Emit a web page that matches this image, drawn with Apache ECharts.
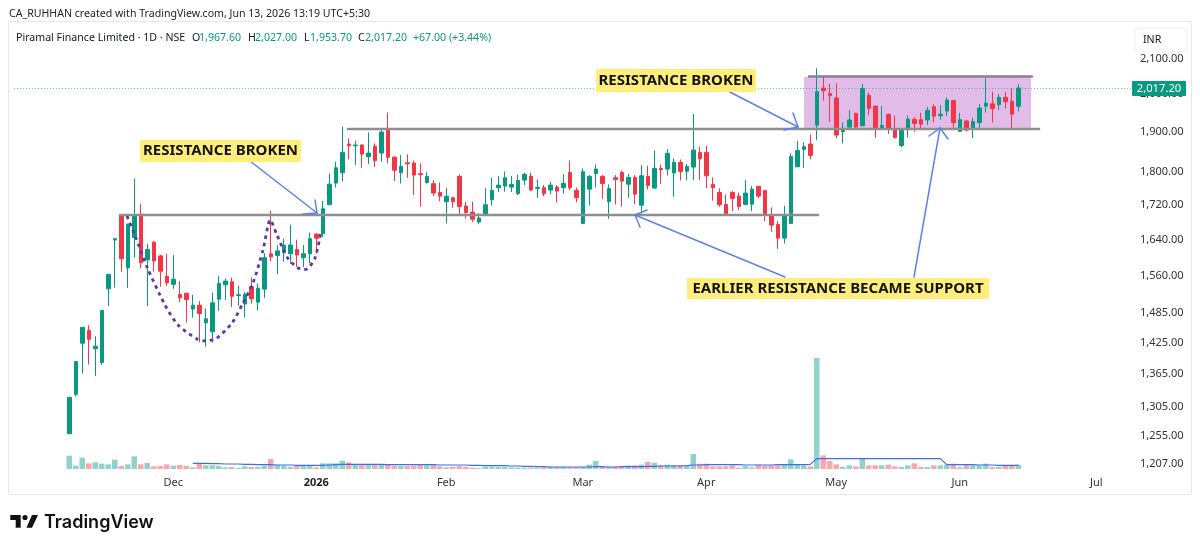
<!DOCTYPE html>
<html><head><meta charset="utf-8">
<style>html,body{margin:0;padding:0;background:#fff}#c{width:1200px;height:549px}</style>
<script src="https://cdn.jsdelivr.net/npm/echarts@6/dist/echarts.min.js"></script>
</head><body><div id="c"></div>
<script>
const opens=[1258.3,1327.9,1423.8,1449,1413,1386.6,1533.5,1639,1693.6,1578,1644.5,1698,1595.4,1634.4,1604,1559.5,1543,1521.6,1524.4,1492,1499.7,1464,1446,1511.9,1541.9,1548.3,1519.6,1502,1537.7,1505.9,1532.8,1608.5,1605,1612,1608.5,1618,1600,1608.6,1652.4,1653,1720,1771.6,
1796.8,1868.6,1864,1866,1836.5,1863,1845.7,1908,1835.7,1796.8,1821.5,1820.7,1794.4,1773,1770,1749,1727,1736.5,1788,1716.9,1702.8,1679.7,1695.8,1731.7,1760.3,1764.3,1761.9,1746.8,1778.8,1788,1758.7,1760.3,1754.8,1761.9,1760.3,1797.6,1754,1676.7,1757,1794.4,1788,1727,1784.5,1797.6,1769,1785.3,1719,1788,1759.5,1807.4,1805.8,1796,1822.3,1800.7,1810.7,1847.4,1847.4,1768.3,1749,1720.6,1749,1740.4,1720.6,1721.4,1763.5,1754,1697.4,1674.4,1643.4,1676.7,1811.5,1854.9,1868.6,
1917.6,2017,2001.5,1989.8,1900,1912.3,1948.5,1915.8,1997,1968,1907,1945.6,1908.9,1865,1905.4,1932.6,1931.8,1931,1966,1942.1,1954.7,1982.6,1901,1928.4,1911.5,1923.9,1967.6,1973.9,1971.6,1991.6,1981,1967.6];
const closes=[1322.5,1388.5,1455,1431.6,1418,1489,1564,1642,1597.6,1675,1693.6,1589,1618,1593,1570.8,1546,1553.9,1514.8,1511.2,1499.7,1482.7,1472,1504.5,1544.8,1549.7,1518,1521,1522.3,1512.7,1534.9,1600,1602,1615,1627.7,1628,1606,1608.6,1642,1643,1710.5,1769,1809,
1847.4,1864,1866,1843,1845.7,1826.5,1899.4,1835,1803,1812.3,1819,1791,1792,1788,1747.6,1740.4,1739.6,1727,1716,1702,1686.4,1689,1720,1754,1766.7,1784.5,1768.3,1778,1792.7,1754.8,1761,1746,1766.7,1752.4,1770.7,1760.3,1736.5,1799,1788,1805.8,1770.7,1758.7,1780.5,1776.4,1785.3,1745,1789.4,1766,1807.4,1804,1845,1822.3,1800,1812.3,1853.2,1831.6,1789.4,1760.3,1720,1697.4,1734.9,1716,1747.6,1757,1740.4,1695.8,1672.8,1643.4,1694.2,1837.3,1852.4,1861.7,1839.8,
2007,2009.8,1996,1891.6,1909,1931,1912.3,2016,1961.8,1907,1916.7,1907,1885.6,1903.5,1933.5,1921.9,1920,1956.4,1941,1946.4,1984.3,1923.9,1931.8,1904.6,1926.7,1962.7,1975.7,1961,1991.6,1980,1946.4,2017.2];
const lows=[1258,1324.3,1366,1383,1361.6,1382,1497.6,1536,1569.6,1535.6,1600,1576.8,1497.6,1570,1537.7,1540,1533.5,1505.9,1464.5,1474.6,1426.4,1416.7,1425,1488,1510,1496,1498.3,1474.6,1503,1489,1514.8,1592.5,1564.5,1591,1587,1580,1580,1587.5,1609,1646,1720,1761,
1775.6,1829.9,1815.7,1809,1818,1811.5,1824,1819.8,1776.4,1770.7,1784.5,1742.8,1715.3,1770.7,1740.4,1728.5,1676.7,1713,1694.2,1688,1680.5,1675,1695.8,1718,1750,1750.7,1750,1742.8,1766.7,1753.2,1736.5,1740.4,1744.4,1725.4,1746.8,1754.8,1726.2,1675,1718,1761,1734,1687.3,1720.6,1715.3,1736.5,1721.4,1699.7,1756.4,1759.5,1769,1790,1738.9,1778,1778,1778.8,1778.8,1759.5,1729.3,1715.3,1695.8,1705,1707.4,1719,1705,1735.7,1682,1657.6,1619.6,1631.5,1676.7,1811.5,1809,1829.9,
1878.7,1982.6,1926,1883,1870,1907,1904.6,1915.8,1944,1884.7,1907,1894,1882,1860,1885.6,1900,1907,1917.6,1924.7,1931.8,1942,1910.6,1901,1901,1883.8,1910.6,1950,1923.9,1957.3,1961,1909,1953.7];
const highs=[1323,1389,1455,1459,1437.5,1490,1565,1643,1694,1676,1783,1721.5,1631,1636.7,1607,1608.5,1606,1550,1525,1521,1508,1493,1525.8,1561,1555.3,1557.4,1540,1527.2,1557.4,1544.8,1610,1706,1627.7,1642,1674,1640,1627.7,1656,1654,1729,1795,1824,
1913,1883,1877,1868,1898.5,1870,1906.5,1951,1836.5,1840.7,1842.4,1826.5,1820,1797.6,1778.8,1773,1759.5,1738.9,1792.7,1727,1727,1699.7,1759.5,1784.5,1788.6,1800,1788.6,1791.9,1796.8,1796.8,1780.5,1766.7,1774.7,1766.7,1792.7,1827.3,1761,1807.4,1791,1817,1791,1768.3,1791,1801.8,1793.5,1791,1815.7,1814,1852.4,1817,1855.8,1832.2,1829.7,1818,1946.6,1861.7,1864,1785.3,1758.7,1744.4,1753.2,1749,1778.8,1764.3,1765,1754.8,1713.8,1682,1717.7,1845,1877,1872.7,1893.4,
2072,2050.4,2028.5,2030,1924.7,1957.3,1950,2028.5,2005,1968,1968,1948.5,1942.9,1909,1942.9,1938,1950,1966,1973,1969.7,1991.6,1984.3,1950,1931.8,1937,1973,2044,2007,2000.6,2007,2016,2027];
const volumes=[40,10,34,17,20,16,14,28,9,14,38,14,18,8,9,14,10,12,9,5,15,11,11,9,5,6,3,8,6,6,10,30,12,10,6,9,9,9,5,17,17,17,25,20,14,14,13,12,13,13,10,9,9,10,13,11,13,8,5,7,9,7,4,3,7,7,6,6,5,4,4,4,4,5,7,6,6,5,5,6,13,24,6,6,7,8,11,11,13,21,19,11,13,12,12,9,45,16,16,8,8,8,11,4,9,5,13,10,11,11,12,29,14,11,8,333,41,24,14,7,11,8,33,11,11,11,13,8,6,11,17,6,6,11,11,12,16,5,14,11,11,16,6,6,11,9,13];
const volumeMA=[null,null,null,null,null,null,null,null,null,null,null,null,null,null,null,null,null,null,null,17,17,17,16,16,15,15,15,14,14,13,13,13,12,12,12,11,11,11,11,11,12,13,14,14,14,14,14,14,14,13,13,13,13,13,13,13,13,12,12,12,12,12,11,11,10,10,10,10,9,9,8,8,7,7,6,6,6,6,6,6,6,7,7,6,6,7,7,7,7,8,8,9,9,9,9,10,12,12,13,13,13,13,13,13,12,12,12,12,12,13,13,13,13,13,14,31,31,31,31,31,31,31,31,31,31,31,31,31,31,31,31,31,31,31,31,13,13,13,13,13,12,12,12,11,11,11,11];
const priceTicks=[2100,2000,1900,1800,1720,1640,1560,1485,1425,1365,1305,1255,1207];
const tickSlots=[24,46,66,87,106,126,145,166];
const tickLabels=['Dec','2026','Feb','Mar','Apr','May','Jun','Jul'];
const PAD=8, SLOTS=172, lastPrice=2017.2;
const UP='#089981', DOWN='#f23645', UPV='#92d2cc', DOWNV='#f9a7ad';

const categories=[];for(let i=0;i<SLOTS;i++){const k=tickSlots.indexOf(i);categories.push(k>=0?tickLabels[k]:'');}
const candles=opens.map((o,i)=>[i+PAD,o,closes[i],lows[i],highs[i]]);
const volBars=volumes.map((v,i)=>({value:[i+PAD,v],itemStyle:{color:closes[i]>=opens[i]?UPV:DOWNV}}));
const maLine=volumeMA.map((v,i)=>[i+PAD,v]);

const FONT='"Noto Sans"';
const ARROW='#5f82e6';
function seg(x1,y1,x2,y2,color,w,z){return{type:'line',z:z||5,silent:true,shape:{x1,y1,x2,y2},style:{stroke:color,lineWidth:w,lineCap:'round'}};}
function arrow(tail,tip,b1,b2){return[seg(tail[0],tail[1],tip[0],tip[1],ARROW,1.5),seg(b1[0],b1[1],tip[0],tip[1],ARROW,1.5),seg(b2[0],b2[1],tip[0],tip[1],ARROW,1.5)];}
function note(x,y,w,h,t,size){return[{type:'rect',z:6,silent:true,shape:{x,y,width:w,height:h},style:{fill:'#ffef7a'}},
{type:'text',z:7,silent:true,x:x+w/2,y:y+h/2,style:{text:t,fill:'#131313',font:'bold '+size+'px '+'"Noto Sans"',align:'center',verticalAlign:'middle'}}];}
function txt(x,y,t,fill,font,align){return{type:'text',z:8,silent:true,x,y,style:{text:t,fill,font:font||('10.6px '+FONT),align:align||'left',verticalAlign:'middle'}};}

const cup=[[127,216],[136,238],[147,267],[165,305],[178,325],[197,339],[206,341],[217,338],[232,323],[243,303],[253,283],[263,250],[270,220],[277,235],[287,257],[298,268],[307,269],[315,258],[321,232]];
const graphics=[
 {type:'rect',z:0,silent:true,shape:{x:8.5,y:21.5,width:1183,height:473},style:{fill:'none',stroke:'#e6e8ee',lineWidth:1}},
 {type:'rect',z:0,silent:true,shape:{x:804,y:77,width:227,height:52},style:{fill:'#e1bce8'}},
 seg(809,76.5,1032,76.5,'#8c7f90',2.4,5),
 seg(348,129,1039,129,'#8f8f8f',2.6,5),
 seg(120,215,818,215,'#8f8f8f',2.6,5),
 {type:'polyline',z:6,silent:true,shape:{points:cup,smooth:0.25},style:{fill:'none',stroke:'#5b37ad',lineWidth:2.8,lineDash:[3.5,4]}},
 ...arrow([250,161],[317,213],[315,200],[303,214]),
 ...arrow([724,89],[798,127],[793,113],[784,130]),
 ...arrow([785,277],[635,215],[647,210],[640,227]),
 ...arrow([914,277],[940,128],[929,136],[948,139]),
 ...note(140,140,161,22,'RESISTANCE BROKEN',15),
 ...note(596,69,160,23,'RESISTANCE BROKEN',15),
 ...note(687,278,302,21,'EARLIER RESISTANCE BECAME SUPPORT',15),
 txt(9,14,'CA_RUHHAN created with TradingView.com, Jun 13, 2026 13:19 UTC+5:30','#222'),
 txt(16,37.5,'Piramal Finance Limited · 1D · NSE','#131722'),
 txt(192,37.5,'O','#131722'),txt(199,37.5,'1,967.60',UP),
 txt(248,37.5,'H','#131722'),txt(255,37.5,'2,027.00',UP),
 txt(304,37.5,'L','#131722'),txt(310,37.5,'1,953.70',UP),
 txt(358,37.5,'C','#131722'),txt(365,37.5,'2,017.20',UP),
 txt(413,37.5,'+67.00 (+3.44%)',UP),
 {type:'rect',z:7,silent:true,shape:{x:1135,y:28,width:52,height:24,r:4},style:{fill:'#fff',stroke:'#eceef2',lineWidth:1}},
 txt(1143,39.5,'INR','#131722'),
 {type:'rect',z:7,silent:true,shape:{x:1132,y:81,width:54,height:15,r:1},style:{fill:UP}},
 txt(1159,88.5,'2,017.20','#fff','11.2px '+FONT,'center'),
 {type:'rect',z:7,silent:true,shape:{x:10.3,y:515,width:10.4,height:5},style:{fill:'#111'}},
 {type:'rect',z:7,silent:true,shape:{x:15.7,y:520,width:5,height:7.7},style:{fill:'#111'}},
 {type:'circle',z:7,silent:true,shape:{cx:25,cy:517.5,r:2.6},style:{fill:'#111'}},
 {type:'polygon',z:7,silent:true,shape:{points:[[32,515],[38,515],[32,527.7],[26.5,527.7]]},style:{fill:'#111'}},
 txt(44,522.5,'TradingView','#111','600 18px Inter')
];

const chart=echarts.init(document.getElementById('c'),null,{renderer:'canvas'});
chart.setOption({
 animation:false,backgroundColor:'#fff',
 graphic:{elements:graphics},
 grid:[{left:14,width:1118,top:50,height:424},{left:14,width:1118,top:350,height:119}],
 xAxis:[
  {type:'category',gridIndex:0,data:categories,boundaryGap:true,axisLine:{show:false},axisTick:{show:false},splitLine:{show:false},
   axisLabel:{show:true,interval:0,hideOverlap:false,margin:3,color:'#333',fontFamily:FONT,fontSize:11,
     formatter:v=>v==='2026'?'{b|2026}':v,rich:{b:{fontWeight:'bold',fontSize:11,fontFamily:FONT,color:'#222'}}}},
  {type:'category',gridIndex:1,data:categories,boundaryGap:true,axisLine:{show:false},axisTick:{show:false},axisLabel:{show:false},splitLine:{show:false}}
 ],
 yAxis:[
  {type:'log',gridIndex:0,position:'right',min:1191,max:2124.5,axisLine:{show:false},axisTick:{show:false},splitLine:{show:false},
   axisLabel:{show:true,customValues:priceTicks,margin:8,color:'#333',fontFamily:FONT,fontSize:11,showMinLabel:true,showMaxLabel:true,
     formatter:v=>Number(v).toLocaleString('en-US',{minimumFractionDigits:2,maximumFractionDigits:2})}},
  {type:'value',gridIndex:1,min:0,max:357,show:false,splitLine:{show:false}}
 ],
 series:[
  {name:'Volume',type:'bar',xAxisIndex:1,yAxisIndex:1,data:volBars,barWidth:5.5,z:1},
  {name:'Volume MA',type:'line',xAxisIndex:1,yAxisIndex:1,data:maLine,showSymbol:false,connectNulls:false,lineStyle:{color:'#3f6fe0',width:1.2},z:2},
  {name:'Piramal Finance',type:'candlestick',xAxisIndex:0,yAxisIndex:0,data:candles,encode:{x:0,y:[1,2,3,4]},barWidth:4,z:3,
   itemStyle:{color:UP,color0:DOWN,borderColor:UP,borderColor0:DOWN,borderColorDoji:UP,borderWidth:1},
   markLine:{silent:true,symbol:'none',label:{show:false},lineStyle:{color:UP,type:[1,2],width:1,opacity:.6},data:[{yAxis:lastPrice}]}}
 ]
});
</script></body></html>
